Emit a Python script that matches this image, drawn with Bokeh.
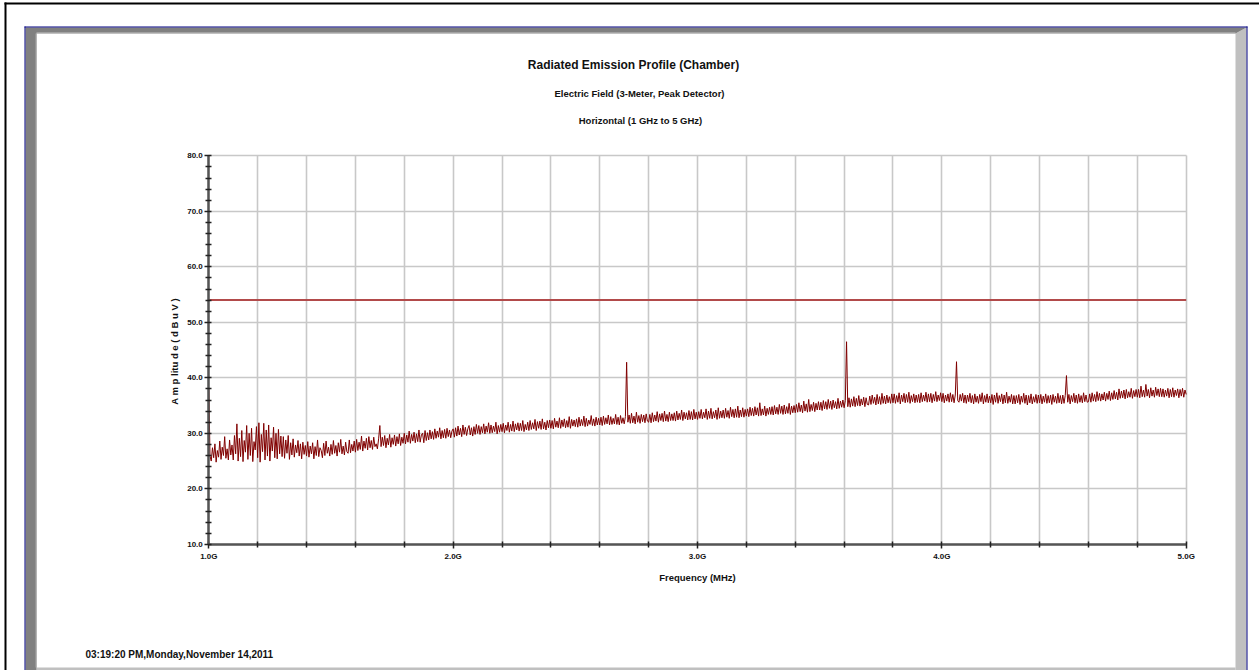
import numpy as np
from bokeh.plotting import figure
from bokeh.models import Range1d, FixedTicker, PrintfTickFormatter, Label
from bokeh.embed import file_html
from bokeh.resources import INLINE

# ---------------- data ----------------
amplitude = [
    38.0, 25.9, 25.0, 27.4, 25.6, 28.1, 24.8, 26.9, 25.7, 28.6, 25.3, 27.5, 26.0, 29.4, 25.5, 27.2, 25.2, 28.8, 26.1, 27.9,
    25.2, 29.6, 26.3, 31.7, 25.0, 29.1, 25.8, 30.5, 24.9, 28.7, 26.6, 31.4, 25.3, 30.0, 26.0, 30.9, 24.9, 28.5, 27.0, 31.2,
    25.6, 31.9, 24.8, 29.8, 26.7, 31.8, 25.2, 30.6, 25.9, 31.5, 25.0, 29.2, 26.8, 31.1, 25.6, 30.0, 25.4, 30.7, 26.3, 29.5,
    25.8, 29.4, 25.5, 28.8, 26.4, 29.6, 25.3, 28.3, 26.1, 29.0, 25.7, 27.9, 26.5, 28.7, 25.9, 28.1, 25.4, 28.4, 26.2, 27.8,
    25.9, 28.5, 25.7, 27.7, 26.3, 28.3, 25.4, 27.6, 26.0, 28.8, 25.8, 27.4, 26.9, 25.6, 28.2, 26.0, 28.6, 26.4, 27.5, 25.9,
    28.0, 26.2, 28.7, 26.4, 27.8, 25.9, 28.3, 26.6, 28.9, 26.3, 27.7, 26.1, 28.4, 26.7, 26.4, 28.8, 26.5, 28.0, 26.8, 28.6,
    26.6, 28.9, 26.9, 28.4, 27.1, 29.5, 26.8, 28.6, 27.3, 29.1, 27.0, 29.4, 27.4, 28.7, 27.1, 29.3, 27.6, 28.1, 27.2, 29.0,
    31.4, 27.6, 29.3, 27.8, 29.6, 27.4, 29.1, 27.9, 29.8, 27.5, 29.2, 28.0, 29.7, 27.7, 29.4, 28.1, 29.9, 27.8, 29.3, 28.2,
    30.0, 28.1, 29.7, 28.4, 30.4, 28.2, 29.8, 28.6, 30.2, 28.3, 29.9, 28.5, 30.6, 28.4, 29.7, 30.0, 28.3, 30.5, 28.7, 30.1,
    28.8, 30.6, 29.0, 30.3, 28.9, 30.8, 29.1, 30.4, 29.3, 31.0, 29.0, 30.5, 29.2, 30.7, 29.1, 30.9, 29.4, 30.6, 29.2, 30.4,
    30.8, 29.3, 31.0, 29.5, 31.3, 29.7, 30.9, 29.4, 31.5, 29.8, 31.1, 29.6, 30.8, 31.4, 29.7, 31.0, 29.5, 31.2, 29.8, 31.6,
    30.0, 31.4, 29.8, 31.2, 30.1, 31.7, 29.9, 31.3, 30.2, 31.9, 30.0, 31.5, 30.1, 31.3, 30.3, 32.0, 29.9, 31.4, 30.2, 31.6,
    30.3, 31.8, 30.1, 31.5, 30.5, 32.0, 30.2, 31.6, 30.4, 32.2, 30.3, 31.7, 30.6, 31.9, 30.4, 31.8, 30.5, 32.3, 30.3, 31.6,
    30.6, 32.0, 30.5, 32.3, 30.7, 31.9, 30.8, 32.5, 30.5, 32.1, 30.9, 32.2, 30.7, 32.6, 30.8, 32.0, 30.6, 32.3, 31.0, 32.4,
    30.9, 32.3, 30.8, 32.7, 31.1, 32.2, 31.0, 32.8, 30.9, 32.4, 31.2, 32.6, 31.0, 32.3, 31.1, 33.0, 30.9, 32.5, 31.3, 32.4,
    31.2, 32.6, 31.1, 32.9, 31.3, 32.5, 31.4, 33.1, 31.2, 32.7, 31.3, 32.4, 31.6, 33.2, 31.4, 32.6, 31.3, 32.9, 31.5, 32.7,
    31.5, 32.9, 31.4, 33.1, 31.6, 32.8, 31.7, 33.3, 31.5, 33.0, 31.6, 32.7, 31.7, 33.4, 31.6, 32.9, 31.5, 33.2, 31.8, 32.8,
    31.7, 33.0, 42.8, 32.0, 33.3, 31.8, 33.6, 31.9, 33.1, 31.7, 33.8, 32.0, 33.2, 31.8, 33.4, 32.1, 33.3, 31.9, 33.5, 32.2,
    32.0, 33.4, 31.9, 33.7, 32.1, 33.3, 32.2, 33.9, 32.0, 33.5, 32.3, 33.6, 32.1, 34.0, 32.2, 33.4, 32.1, 33.8, 32.3, 33.5,
    32.3, 33.7, 32.2, 34.0, 32.4, 33.6, 32.5, 34.2, 32.3, 33.8, 32.6, 33.7, 32.4, 34.1, 32.5, 33.9, 32.4, 34.3, 32.6, 33.8,
    32.5, 33.9, 32.7, 34.3, 32.6, 33.8, 32.8, 34.4, 32.5, 34.0, 32.7, 34.5, 32.6, 33.9, 32.8, 34.2, 32.5, 34.6, 32.7, 34.0,
    32.8, 34.2, 32.7, 34.5, 32.9, 34.1, 32.7, 34.7, 33.0, 34.3, 32.8, 34.4, 32.9, 34.9, 32.8, 34.2, 33.0, 34.6, 32.9, 34.3,
    33.1, 34.4, 33.0, 34.7, 33.2, 34.5, 33.1, 34.8, 33.3, 34.6, 33.1, 35.5, 33.2, 34.4, 33.3, 34.9, 33.1, 34.5, 33.4, 34.7,
    33.4, 34.8, 33.3, 35.0, 33.5, 34.7, 33.4, 35.2, 33.6, 34.9, 33.4, 35.1, 33.5, 34.8, 33.6, 35.4, 33.4, 34.9, 33.7, 35.0,
    33.7, 35.2, 33.8, 35.5, 33.9, 35.1, 33.7, 35.8, 34.0, 35.3, 33.8, 36.1, 33.9, 35.2, 34.1, 35.6, 33.9, 35.4, 34.2, 35.7,
    34.2, 35.6, 34.1, 35.9, 34.4, 35.7, 34.3, 36.1, 34.5, 35.8, 34.3, 36.0, 34.6, 35.7, 34.4, 36.3, 34.5, 35.8, 34.7, 36.0,
    34.6, 35.9, 46.5, 34.8, 36.4, 34.7, 36.2, 34.9, 36.6, 34.8, 36.3, 35.0, 36.8, 34.9, 36.2, 35.1, 36.5, 34.8, 36.4, 35.2,
    35.1, 36.7, 35.2, 36.9, 35.4, 36.5, 35.1, 37.0, 35.3, 36.6, 35.2, 37.2, 35.4, 36.7, 35.3, 36.9, 35.5, 36.6, 35.4, 37.1,
    35.5, 37.1, 35.4, 36.8, 35.6, 37.3, 35.3, 36.9, 35.7, 37.2, 35.5, 37.0, 35.6, 37.4, 35.4, 36.8, 35.7, 37.1, 35.5, 36.9,
    35.6, 37.0, 35.5, 37.3, 35.7, 36.9, 35.8, 37.4, 35.6, 37.1, 35.7, 37.2, 35.5, 37.0, 35.8, 37.5, 35.7, 36.9, 35.9, 37.3,
    35.7, 37.2, 35.5, 36.9, 35.8, 37.1, 35.6, 37.3, 35.7, 37.0, 35.5, 36.9, 42.9, 35.9, 35.6, 37.0, 35.8, 37.2, 35.5, 36.9,
    35.4, 36.9, 35.7, 37.2, 35.5, 36.8, 35.3, 37.1, 35.6, 36.7, 35.4, 37.0, 35.7, 37.3, 35.3, 36.8, 35.6, 37.1, 35.5, 36.7,
    35.5, 37.0, 35.2, 36.9, 35.6, 37.3, 35.4, 36.8, 35.7, 37.1, 35.3, 36.9, 35.5, 37.4, 35.4, 36.7, 35.6, 37.0, 35.3, 36.8,
    35.3, 36.8, 35.5, 37.0, 35.2, 36.7, 35.6, 37.2, 35.4, 36.9, 35.1, 36.8, 35.5, 37.1, 35.3, 36.6, 35.6, 37.0, 35.4, 36.9,
    35.5, 37.0, 35.3, 36.7, 35.6, 37.1, 35.4, 36.8, 35.5, 36.9, 35.2, 37.0, 35.6, 36.7, 35.4, 37.2, 35.5, 36.8, 35.3, 36.9,
    35.4, 36.8, 40.4, 35.6, 37.0, 35.3, 36.8, 35.7, 37.2, 35.5, 36.9, 35.4, 37.1, 35.6, 36.8, 35.5, 37.3, 35.7, 36.9, 35.6,
    35.7, 37.1, 35.6, 37.3, 35.8, 37.0, 35.7, 37.5, 35.9, 37.2, 35.8, 37.1, 36.0, 37.4, 35.8, 37.2, 36.1, 37.6, 35.9, 37.3,
    36.1, 37.7, 36.2, 37.4, 36.0, 38.0, 36.3, 37.6, 36.4, 37.8, 36.2, 37.9, 36.4, 37.5, 36.5, 38.1, 36.3, 37.7, 36.6, 37.9,
    36.5, 37.9, 36.4, 38.5, 36.6, 37.8, 36.5, 38.8, 36.7, 37.9, 36.4, 38.2, 36.7, 37.8, 36.5, 38.3, 36.8, 38.0, 36.6, 38.1,
    36.6, 38.0, 36.5, 37.8, 36.7, 38.1, 36.4, 37.9, 36.6, 38.2, 36.5, 37.8, 36.8, 38.0, 36.4, 37.9, 36.7, 38.1, 36.5, 37.8,
    37.0,
]
freq_start, freq_stop = 1.0, 5.0          # GHz sweep
limit_freq = [1.0, 5.0]
limit_level = [54.0, 54.0]

x_major = [1.0, 2.0, 3.0, 4.0, 5.0]
x_minor = [1.2, 1.4, 1.6, 1.8, 2.2, 2.4, 2.6, 2.8, 3.2, 3.4, 3.6, 3.8,
           4.2, 4.4, 4.6, 4.8]
y_major = [10, 20, 30, 40, 50, 60, 70, 80]
y_minor = [12, 14, 16, 18, 22, 24, 26, 28, 32, 34, 36, 38, 42, 44, 46, 48,
           52, 54, 56, 58, 62, 64, 66, 68, 72, 74, 76, 78]

title_text = "Radiated Emission Profile (Chamber)"
subtitle1 = "Electric Field (3-Meter, Peak Detector)"
subtitle2 = "Horizontal (1 GHz to 5 GHz)"
x_label = "Frequency (MHz)"
y_label = "A m p litu d e  ( d B u V )"
stamp = "03:19:20 PM,Monday,November 14,2011"

freq = np.linspace(freq_start, freq_stop, len(amplitude))

# ---------------- page geometry (pixels on the page) ----------------
W, H = 1259, 670
PX0, PXS = 208.3, 244.35      # page x of 1 GHz, px per GHz
PY0, PYS = 543.8, 5.55        # page y of 10 dBuV, px per dB
FONT = "Liberation Sans"


def fx(px):
    return freq_start + (px - PX0) / PXS


def fy(py):
    return 10.0 + (PY0 - py) / PYS


p = figure(width=W, height=H, output_backend="svg", toolbar_location=None,
           x_range=Range1d(fx(0), fx(W)), y_range=Range1d(fy(H), fy(0)),
           min_border=0, min_border_left=0, min_border_right=0,
           min_border_top=0, min_border_bottom=0,
           background_fill_color="white", border_fill_color="white",
           outline_line_color=None, title=None)


# ---------------- frame decoration ----------------
def poly(pts, color):
    p.patch([fx(a) for a, b in pts], [fy(b) for a, b in pts],
            fill_color=color, line_color=None)


poly([(4, 2), (1259, 2), (1259, 4), (4, 4)], "#000000")
poly([(4, 2), (6, 2), (6, 670), (4, 670)], "#000000")
poly([(1235, 33), (1246, 27), (1246, 670), (1235, 670)], "#c0c0c0")
poly([(36, 667), (1235, 667), (1235, 670), (36, 670)], "#c0c0c0")
poly([(25, 27), (1246, 27), (1235, 33), (36, 33), (36, 670), (25, 670)], "#808080")
poly([(36, 32), (1235, 32), (1235, 33), (36, 33)], "#c4c4c4")
poly([(35, 33), (36, 33), (36, 667), (35, 667)], "#a8a8a8")
poly([(24, 26), (1247, 26), (1247, 27), (24, 27)], "#000080")
poly([(24, 26), (25, 26), (25, 670), (24, 670)], "#000080")
poly([(1246, 26), (1247, 26), (1247, 670), (1246, 670)], "#000080")

# ---------------- grids ----------------
p.xgrid.ticker = FixedTicker(ticks=x_major + x_minor)
p.ygrid.ticker = FixedTicker(ticks=y_major)
p.xgrid.cross_bounds = (10, 80)
p.ygrid.cross_bounds = (1.0, 5.0)
for g in (p.xgrid, p.ygrid):
    g.grid_line_color = "#c8c8c8"
    g.grid_line_width = 1.6

# ---------------- data ----------------
p.line(limit_freq, limit_level, line_color="#b24a4a", line_width=2)
p.line(freq, amplitude, line_color="#800000", line_width=1.0)

# ---------------- axes ----------------
xa = p.xaxis[0]
ya = p.yaxis[0]
xa.fixed_location = 10.0
ya.fixed_location = 1.0
xa.bounds = (1.0, 5.0)
ya.bounds = (10.0, 80.0)
xa.ticker = FixedTicker(ticks=x_major, minor_ticks=x_minor)
ya.ticker = FixedTicker(ticks=y_major, minor_ticks=y_minor)
xa.formatter = PrintfTickFormatter(format="%.1fG")
ya.formatter = PrintfTickFormatter(format="%.1f")
xa.axis_label = x_label
ya.axis_label = y_label
for ax in (xa, ya):
    ax.axis_line_color = "#555555"
    ax.axis_line_width = 2.5
    ax.major_tick_line_color = "#222222"
    ax.major_tick_line_width = 1.5
    ax.minor_tick_line_color = "#222222"
    ax.minor_tick_line_width = 1.5
    ax.major_tick_in = 3
    ax.major_tick_out = 4
    ax.minor_tick_in = 3
    ax.minor_tick_out = 3
    ax.major_label_text_font = FONT
    ax.major_label_text_font_style = "bold"
    ax.major_label_text_font_size = "8px"
    ax.major_label_text_color = "#111111"
    ax.axis_label_text_font = FONT
    ax.axis_label_text_font_style = "bold"
    ax.axis_label_text_font_size = "9.5px"
    ax.axis_label_text_color = "#111111"
xa.major_label_standoff = 4
ya.major_label_standoff = 2
xa.axis_label_standoff = 7
ya.axis_label_standoff = 4


# ---------------- texts ----------------
def add_text(txt, px, py, size, align="center"):
    p.add_layout(Label(x=fx(px), y=fy(py), text=txt, text_font=FONT,
                       text_font_style="bold", text_font_size=size,
                       text_align=align, text_baseline="middle",
                       text_color="#111111"))


add_text(title_text, 633, 64, "12px")
add_text(subtitle1, 639, 93, "9.5px")
add_text(subtitle2, 640, 120, "9.5px")
add_text(stamp, 85, 654, "10px", align="left")

open("out.html", "w").write(file_html(p, INLINE))
